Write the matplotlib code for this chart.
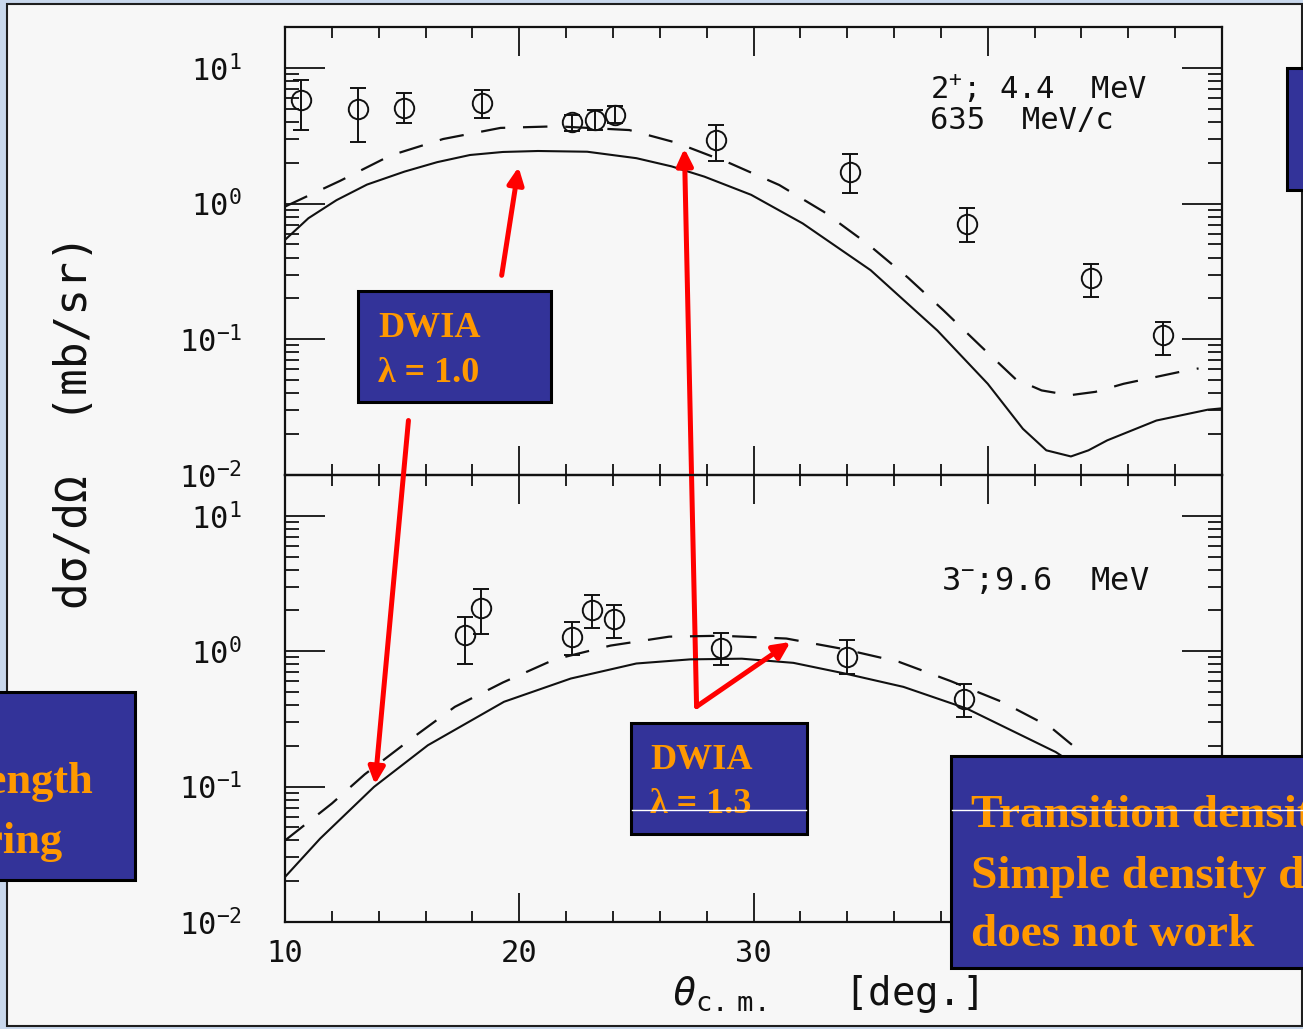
import matplotlib
matplotlib.use('Agg')
import matplotlib.pyplot as plt
from matplotlib.patches import Rectangle
from matplotlib.lines import Line2D
from matplotlib.transforms import Affine2D
from matplotlib.ticker import LogLocator, MultipleLocator, NullFormatter
import numpy as np

plt.rcParams['font.family'] = 'DejaVu Sans Mono'
plt.rcParams['mathtext.fontset'] = 'custom'
plt.rcParams['mathtext.rm'] = 'DejaVu Sans Mono'
plt.rcParams['mathtext.it'] = 'DejaVu Sans Mono:italic'
plt.rcParams['mathtext.bf'] = 'DejaVu Sans Mono:bold'

# 2+ ; 4.4 MeV  (635 MeV/c)
theta_2p = [10.7, 13.1, 15.1, 18.4, 22.25, 23.25, 24.1, 28.4, 34.1, 39.1, 44.4, 47.5]
xs_2p = [5.8, 5.0, 5.1, 5.55, 4.0, 4.1, 4.5, 2.95, 1.72, 0.71, 0.285, 0.107]
xs_2p_lo = [3.5, 2.85, 3.9, 4.25, 3.4, 3.5, 3.9, 2.05, 1.2, 0.52, 0.205, 0.076]
xs_2p_hi = [8.1, 7.1, 6.5, 6.9, 4.5, 4.9, 5.2, 3.8, 2.3, 0.92, 0.36, 0.134]

th_2p_solid = [10.0, 11.0, 12.2, 13.5, 15.1, 16.5, 17.9, 19.3, 20.8, 22.9, 25.0, 26.5,
               27.9, 29.9, 32.1, 35.0, 37.85, 40.0, 41.5, 42.5, 43.55, 44.3, 45.1,
               47.2, 49.4, 50.0]
dwia_2p_10 = [0.54, 0.78, 1.06, 1.38, 1.72, 2.02, 2.28, 2.40, 2.44, 2.41, 2.16, 1.88,
              1.58, 1.16, 0.714, 0.323, 0.116, 0.047, 0.0219, 0.0152, 0.0137, 0.0152,
              0.018, 0.0252, 0.0303, 0.031]

th_2p_dash = [10.0, 12.35, 14.5, 16.75, 19.2, 21.6, 24.7, 26.7, 29.0, 31.1, 33.0, 34.9,
              36.6, 38.1, 39.7, 41.2, 42.3, 43.5, 44.6, 45.8, 48.3, 49.0]
dwia_2p_13 = [0.95, 1.47, 2.26, 2.99, 3.61, 3.71, 3.48, 2.81, 1.98, 1.37, 0.87, 0.50,
              0.284, 0.164, 0.089, 0.0507, 0.042, 0.0387, 0.041, 0.047, 0.058, 0.061]

# 3- ; 9.6 MeV
theta_3m = [17.7, 18.35, 22.25, 23.1, 24.05, 28.6, 34.0, 39.0]
xs_3m = [1.31, 2.09, 1.28, 2.01, 1.74, 1.05, 0.91, 0.447]
xs_3m_lo = [0.81, 1.35, 0.93, 1.49, 1.26, 0.79, 0.684, 0.327]
xs_3m_hi = [1.80, 2.9, 1.65, 2.59, 2.19, 1.37, 1.21, 0.577]

th_3m_solid = [10.0, 11.5, 13.8, 16.1, 19.35, 22.2, 25.0, 27.3, 29.5, 31.7, 33.9, 36.4,
               39.1, 42.9, 43.6]
dwia_3m_10 = [0.0215, 0.0413, 0.0995, 0.202, 0.423, 0.628, 0.811, 0.87, 0.88, 0.82,
              0.684, 0.545, 0.377, 0.18, 0.15]

th_3m_dash = [10.0, 12.0, 13.4, 15.4, 17.25, 19.3, 21.5, 23.9, 26.4, 28.6, 31.4, 33.8,
              36.2, 38.4, 40.6, 42.7, 43.9]
dwia_3m_13 = [0.040, 0.075, 0.123, 0.226, 0.388, 0.587, 0.868, 1.10, 1.28, 1.30, 1.24,
              1.04, 0.835, 0.603, 0.423, 0.273, 0.184]

W, H = 1303, 1029
fig = plt.figure(figsize=(W / 100, H / 100), dpi=100)
fig.patch.set_facecolor('#c9d8ec')
# pixel coordinates, origin at top left
pix = Affine2D().scale(1 / W, -1 / H).translate(0, 1) + fig.transFigure

fig.add_artist(Rectangle((7, 4), 1295, 1022, transform=pix, facecolor='#f7f7f7',
                         edgecolor='#1e1e1e', lw=1.5, zorder=-5))

ax1 = fig.add_axes([285 / W, 1 - 475 / H, 937 / W, 448 / H])
ax2 = fig.add_axes([285 / W, 1 - 922 / H, 937 / W, 447 / H])

ink = '#111111'
for ax in (ax1, ax2):
    ax.set_facecolor('none')
    ax.set_yscale('log')
    ax.set_xlim(10, 50)
    ax.set_ylim(0.01, 20)
    ax.xaxis.set_major_locator(MultipleLocator(10))
    ax.xaxis.set_minor_locator(MultipleLocator(2))
    ax.yaxis.set_major_locator(LogLocator(base=10, numticks=10))
    ax.yaxis.set_minor_locator(LogLocator(base=10, subs=np.arange(2, 10), numticks=30))
    ax.yaxis.set_minor_formatter(NullFormatter())
    ax.tick_params(which='both', direction='in', top=True, right=True,
                   width=1.3, color=ink, labelcolor=ink)
    ax.tick_params(axis='x', which='major', length=21, pad=12, labelsize=22)
    ax.tick_params(axis='x', which='minor', length=8)
    ax.tick_params(axis='y', which='major', length=29, pad=31, labelsize=22)
    ax.tick_params(axis='y', which='minor', length=10)
    for s in ax.spines.values():
        s.set_linewidth(1.6)
        s.set_color(ink)
ax1.tick_params(axis='x', labelbottom=False)

eb = dict(fmt='o', ms=14, mfc='none', mec=ink, mew=1.4, ecolor=ink,
          elinewidth=1.4, capsize=6, capthick=1.4, zorder=3)

xs = np.array(xs_2p)
ax1.errorbar(theta_2p, xs, yerr=[xs - np.array(xs_2p_lo), np.array(xs_2p_hi) - xs], **eb)
ax1.plot(th_2p_solid, dwia_2p_10, color=ink, lw=1.5)
ax1.plot(th_2p_dash, dwia_2p_13, color=ink, lw=1.6, ls=(0, (11, 8)))

xs = np.array(xs_3m)
ax2.errorbar(theta_3m, xs, yerr=[xs - np.array(xs_3m_lo), np.array(xs_3m_hi) - xs], **eb)
ax2.plot(th_3m_solid, dwia_3m_10, color=ink, lw=1.5)
ax2.plot(th_3m_dash, dwia_3m_13, color=ink, lw=1.6, ls=(0, (11, 8)))

fig.text(930, 99, r'2$^{+}$; 4.4  MeV', transform=pix, fontsize=22, color=ink, va='baseline')
fig.text(930, 129, '635  MeV/c', transform=pix, fontsize=22, color=ink, va='baseline')
fig.text(941, 590, r'3$^{-}$;9.6  MeV', transform=pix, fontsize=23, color=ink, va='baseline')

fig.text(75, 422, 'dσ/dΩ  (mb/sr)', transform=pix, fontsize=32, color=ink,
         rotation=90, ha='center', va='center')
fig.text(825, 1005, r'$\theta_{\rm c.\ m.}$   [deg.]', transform=pix, fontsize=28,
         color=ink, ha='center', va='baseline')

# red arrows
arrow = dict(arrowstyle='-|>,head_length=0.5,head_width=0.24', color='#ff0000',
             lw=3.6, shrinkA=0, shrinkB=0, mutation_scale=20)
ax1.annotate('', xy=(19.97, 1.86), xytext=(19.25, 0.296), arrowprops=arrow, zorder=8)
ax2.annotate('', xy=(13.84, 0.1035), xytext=(15.27, 0.0252),
             textcoords=ax1.transData, arrowprops=arrow, zorder=8)
ax1.annotate('', xy=(27.05, 2.55), xytext=(27.57, 0.39),
             textcoords=ax2.transData, arrowprops=arrow, zorder=8)
ax2.annotate('', xy=(31.58, 1.17), xytext=(27.57, 0.39), arrowprops=arrow, zorder=8)

# blue note boxes
def note_box(x0, y0, x1, y1):
    fig.add_artist(Rectangle((x0, y0), x1 - x0, y1 - y0, transform=pix,
                             facecolor='#333399', edgecolor='black', lw=2.2, zorder=10))

note_box(358, 291, 551, 402)
note_box(1287, 68, 1330, 190)
note_box(-20, 692, 135, 880)
note_box(631, 723, 807, 834)
note_box(951, 756, 1330, 968)

serif = dict(family='Liberation Serif', weight='bold', color='#ff9900',
             transform=pix, va='baseline', zorder=11)
fig.text(378, 337, 'DWIA', fontsize=26, **serif)
fig.text(378, 382, 'λ = 1.0', fontsize=26, **serif)
fig.text(650, 769, 'DWIA', fontsize=26, **serif)
fig.text(650, 813, 'λ = 1.3', fontsize=26, **serif)
fig.text(93, 793, 'Strength', fontsize=32, ha='right', **serif)
fig.text(63, 853, 'Scattering', fontsize=32, ha='right', **serif)
fig.text(971, 827, 'Transition density', fontsize=34, **serif)
fig.text(971, 888, 'Simple density dependence', fontsize=34, **serif)
fig.text(971, 946, 'does not work', fontsize=34, **serif)

for xa, xb in ((632, 806), (952, 1303)):
    fig.add_artist(Line2D([xa, xb], [810, 810], transform=pix, color='white',
                          lw=1.0, zorder=12))

fig.savefig('out.png', dpi=100, facecolor=fig.get_facecolor())
